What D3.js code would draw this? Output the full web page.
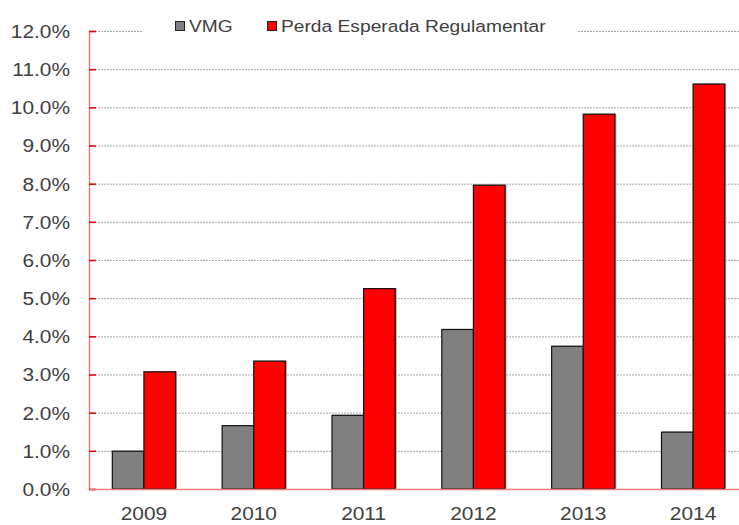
<!DOCTYPE html>
<html>
<head>
<meta charset="utf-8">
<script src="https://cdn.jsdelivr.net/npm/d3@7/dist/d3.min.js"></script>
<style>
  body { margin: 0; background: #fff; }
  svg { display: block; }
  text { font-family: "Liberation Sans", Arial, sans-serif; fill: #404040; }
</style>
</head>
<body>
<div id="chart"></div>
<script>
const years = ['2009', '2010', '2011', '2012', '2013', '2014'];
const seriesNames = ['VMG', 'Perda Esperada Regulamentar'];
const vmg = [0.99, 1.66, 1.93, 4.18, 3.74, 1.49];
const perdaEsperada = [3.07, 3.35, 5.25, 7.96, 9.82, 10.61];
const yTicks = [0, 1, 2, 3, 4, 5, 6, 7, 8, 9, 10, 11, 12];
const seriesColors = ['#808080', '#ff0000'];

const W = 739, H = 525;
const margin = { top: 31, right: -9, bottom: 36, left: 89 };
const width = W - margin.left - margin.right;
const height = H - margin.top - margin.bottom;
const stretch = 1.13;

const svg = d3.select('#chart')
  .append('svg')
  .attr('width', W)
  .attr('height', H);

const g = svg.append('g')
  .attr('transform', `translate(${margin.left},${margin.top})`);

const x0 = d3.scaleBand().domain(years).range([0, width]).padding(0);
const barW = 31.6;
const x1 = d3.scaleBand()
  .domain(seriesNames)
  .range([x0.bandwidth() / 2 - barW, x0.bandwidth() / 2 + barW]);

const y = d3.scaleLinear().domain([0, 12]).range([height, 0]);

// gridlines
g.append('g')
  .selectAll('line')
  .data(yTicks.filter((d) => d > 0))
  .enter()
  .append('line')
  .attr('x1', 0)
  .attr('x2', width)
  .attr('y1', (d) => y(d) + 0.5)
  .attr('y2', (d) => y(d) + 0.5)
  .attr('stroke', '#a8a8a8')
  .attr('stroke-width', 1)
  .attr('stroke-dasharray', '2,1');

// bars
const data = years.map((yr, i) => ({ year: yr, values: [vmg[i], perdaEsperada[i]] }));
const groups = g.selectAll('.yr')
  .data(data)
  .enter()
  .append('g')
  .attr('transform', (d) => `translate(${x0(d.year)},0)`);

groups.selectAll('rect.shadow')
  .data((d) => d.values.map((v, k) => ({ v, k })))
  .enter()
  .append('rect')
  .attr('class', 'shadow')
  .attr('x', (d) => x1(seriesNames[d.k]) + 1.5)
  .attr('y', (d) => y(d.v) - 0.5)
  .attr('width', x1.bandwidth())
  .attr('height', (d) => height - y(d.v))
  .attr('fill', '#a0a0a0');

groups.selectAll('rect.bar')
  .data((d) => d.values.map((v, k) => ({ v, k })))
  .enter()
  .append('rect')
  .attr('class', 'bar')
  .attr('x', (d) => x1(seriesNames[d.k]))
  .attr('y', (d) => y(d.v))
  .attr('width', x1.bandwidth())
  .attr('height', (d) => height - y(d.v))
  .attr('fill', (d) => seriesColors[d.k])
  .attr('stroke', '#111')
  .attr('stroke-width', 1.2);

// y axis
const yAxis = g.append('g')
  .call(d3.axisLeft(y).tickValues(yTicks).tickSize(-7).tickPadding(0)
    .tickFormat((d) => d3.format('.1f')(d) + '%'));
yAxis.select('.domain').attr('stroke', '#f47c7c').attr('stroke-width', 1.5);
yAxis.selectAll('.tick line').attr('stroke', '#e00000').attr('stroke-width', 1.5);
yAxis.selectAll('.tick text')
  .attr('x', null)
  .attr('dy', '0.35em')
  .attr('transform', `translate(-19,0) scale(${stretch},1)`)
  .attr('text-anchor', 'end')
  .style('font-size', '18.5px')
  .style('font-family', '"Liberation Sans", Arial, sans-serif')
  .attr('fill', '#404040');

// x axis
const xAxis = g.append('g')
  .attr('transform', `translate(0,${height})`)
  .call(d3.axisBottom(x0).tickSize(0).tickPadding(0));
xAxis.select('.domain').attr('stroke', '#f47c7c').attr('stroke-width', 1.5);
xAxis.selectAll('.tick text')
  .attr('y', null)
  .attr('dy', null)
  .attr('transform', `translate(0,31) scale(${stretch},1)`)
  .style('font-size', '18.5px')
  .style('font-family', '"Liberation Sans", Arial, sans-serif')
  .attr('fill', '#404040');

// legend
const legend = svg.append('g');
legend.append('rect')
  .attr('x', 142).attr('y', 12).attr('width', 436).attr('height', 28)
  .attr('fill', '#fff');
const legendX = [175, 267];
seriesNames.forEach((name, k) => {
  legend.append('rect')
    .attr('x', legendX[k] + 0.5)
    .attr('y', 21.5)
    .attr('width', 9)
    .attr('height', 9)
    .attr('fill', seriesColors[k])
    .attr('stroke', '#222')
    .attr('stroke-width', 1);
  legend.append('text')
    .attr('transform', `translate(${legendX[k] + 14},32) scale(${stretch},1)`)
    .style('font-size', '17px')
    .text(name);
});
</script>
</body>
</html>
